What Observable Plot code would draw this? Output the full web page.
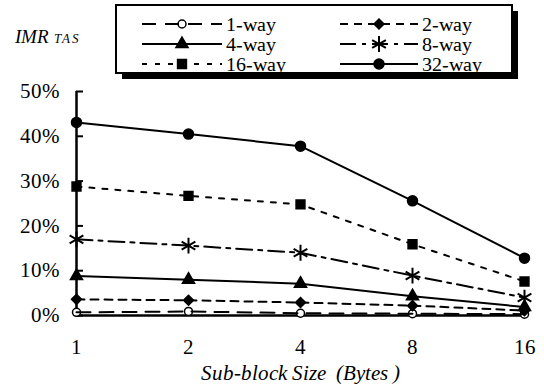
<!DOCTYPE html>
<html><head><meta charset="utf-8">
<script src="https://cdn.jsdelivr.net/npm/d3@7"></script>
<script src="https://cdn.jsdelivr.net/npm/@observablehq/plot@0.6"></script>
<style>
@font-face{font-family:"RefSerif";src:local("Liberation Serif"),local("LiberationSerif");font-style:normal;font-weight:400;}
@font-face{font-family:"RefSerif";src:local("Liberation Serif Italic"),local("LiberationSerif-Italic");font-style:italic;font-weight:400;}
</style>
</head><body style="margin:0;background:#fff">
<div id="wrap" style="position:relative;width:544px;height:390px;font-family:RefSerif,'Liberation Serif',serif">
  <div id="ylab" style="position:absolute;z-index:2;left:15px;top:27px;font-family:RefSerif,'Liberation Serif',serif;font-style:italic;font-size:19px;line-height:1;white-space:pre">IMR<span style="font-size:13px;letter-spacing:2px"> TAS</span></div>
  <div id="xlab" style="position:absolute;z-index:2;left:0;width:600px;text-align:center;top:363px;font-family:RefSerif,'Liberation Serif',serif;font-style:italic;font-size:21px;line-height:1;white-space:pre">Sub-block Size  (Bytes )</div>
</div>
<script>
// ---- data ----
const sizes = ["1", "2", "4", "8", "16"];
const seriesNames = ["1-way", "2-way", "4-way", "8-way", "16-way", "32-way"];
const way1  = [0.007, 0.009, 0.005, 0.004, 0.003];
const way2  = [0.036, 0.034, 0.029, 0.022, 0.011];
const way4  = [0.088, 0.080, 0.071, 0.043, 0.019];
const way8  = [0.170, 0.156, 0.140, 0.089, 0.040];
const way16 = [0.288, 0.267, 0.248, 0.159, 0.076];
const way32 = [0.431, 0.405, 0.378, 0.256, 0.128];
const yTicks = [0, 0.1, 0.2, 0.3, 0.4, 0.5];

// ---- styles ----
const FONT = "RefSerif, 'Liberation Serif', serif";
const allValues = [way1, way2, way4, way8, way16, way32];
const dashes = ["14,9", "8,6", null, "16,6,4,6", "5,8", null];
const symbols = ["circle", "diamond2", "triangle", "asterisk", "square", "circle"];
const fills = ["white", "black", "black", "none", "black", "black"];
const radii = [4, 4.5, 4.5, 7.5, 5, 5];

const data = [];
seriesNames.forEach((s, i) => sizes.forEach((x, j) => data.push({series: s, idx: i, x, y: allValues[i][j]})));

const marks = [
  Plot.ruleX([sizes[0]], {strokeWidth: 2.5}),
  Plot.ruleY([0], {strokeWidth: 2.5}),
  Plot.axisY(yTicks, {anchor: "left", tickSize: -7, strokeWidth: 2, tickFormat: () => null, label: null}),
  Plot.axisY(yTicks, {anchor: "left", tickSize: 0, tickPadding: 17, tickFormat: d => Math.round(d * 100) + "%", fontSize: 21, fontFamily: FONT, label: null}),
  Plot.axisX({anchor: "bottom", tickSize: 0, tickPadding: 24, fontSize: 21, fontFamily: FONT, label: null})
];
seriesNames.forEach((s, i) => {
  const d = data.filter(r => r.idx === i);
  marks.push(Plot.dot(d, {x: "x", y: "y", symbol: () => symbols[i], r: radii[i], fill: fills[i], stroke: "black", strokeWidth: i === 3 ? 2 : 1.5}));
  marks.push(Plot.line(d, {x: "x", y: "y", stroke: "black", strokeWidth: 2, strokeDasharray: dashes[i]}));
});

const chart = Plot.plot({
  width: 544, height: 390,
  marginLeft: 76, marginRight: 20, marginTop: 91, marginBottom: 75,
  style: {fontFamily: FONT, fontSize: "21px", color: "black", background: "white", position: "absolute", left: "0px", top: "0px"},
  x: {type: "point", domain: sizes, padding: 0},
  y: {domain: [0, 0.5]},
  symbol: {type: "identity"},
  marks
});
const wrap = document.getElementById("wrap");
wrap.appendChild(chart);

// ---- overlay legend ----
const svg = d3.select(wrap).append("svg").attr("width", 544).attr("height", 390)
  .style("position", "absolute").style("left", "0px").style("top", "0px").style("pointer-events", "none")
  .attr("font-family", FONT);

const bx = 116, by = 5, bw = 396, bh = 68;
svg.append("rect").attr("x", bx + 6).attr("y", by + 6).attr("width", bw).attr("height", bh).attr("fill", "black");
svg.append("rect").attr("x", bx).attr("y", by).attr("width", bw).attr("height", bh).attr("fill", "white").attr("stroke", "black").attr("stroke-width", 2);

const symMap = {circle: d3.symbolCircle, diamond2: d3.symbolDiamond2, triangle: d3.symbolTriangle, asterisk: d3.symbolAsterisk, square: d3.symbolSquare};
seriesNames.forEach((s, i) => {
  const col = i % 2, row = Math.floor(i / 2);
  const x0 = col === 0 ? 142 : 340, x1 = col === 0 ? 222 : 418, cy = 24 + row * 20;
  const g = svg.append("g");
  g.append("path").attr("transform", `translate(${(x0 + x1) / 2},${cy})`)
    .attr("d", d3.symbol(symMap[symbols[i]], Math.PI * radii[i] * radii[i])())
    .attr("fill", fills[i]).attr("stroke", "black").attr("stroke-width", i === 3 ? 2 : 1.5);
  g.append("line").attr("x1", x0).attr("x2", x1).attr("y1", cy).attr("y2", cy)
    .attr("stroke", "black").attr("stroke-width", 2).attr("stroke-dasharray", dashes[i]);
  g.append("text").attr("x", x1 + 4).attr("y", cy).attr("dy", "0.35em").attr("font-family", FONT).attr("font-size", 20).text(s);
});
// keep static labels on top
wrap.appendChild(document.getElementById("ylab"));
wrap.appendChild(document.getElementById("xlab"));
</script></body></html>
